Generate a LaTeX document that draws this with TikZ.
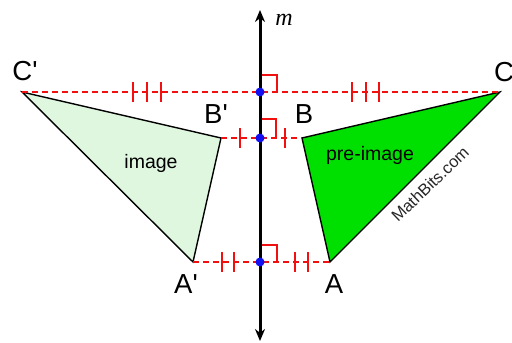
\documentclass[tikz,border=0pt]{standalone}
\usepackage{fontspec}
\setmainfont{Liberation Sans}
\newfontfamily\mserif{Liberation Serif}
\usetikzlibrary{arrows.meta}
\definecolor{lightg}{HTML}{DFF7DF}
\definecolor{brightg}{HTML}{00E000}
\definecolor{mred}{HTML}{F01010}
\definecolor{mblue}{HTML}{1010F0}
\begin{document}
\begin{tikzpicture}[x=1pt,y=-1pt,
  tri/.style={draw=black,line width=1.4pt,line join=miter},
  perp/.style={draw=mred,dashed,dash pattern=on 6pt off 4pt,line width=1.4pt},
  tick/.style={draw=mred,line width=1.6pt},
  rmark/.style={draw=mred,line width=1.4pt},
  dot/.style={circle,fill=mblue,inner sep=0pt,minimum size=9pt},
  lab/.style={font=\fontsize{27.5}{27.5}\selectfont,inner sep=0pt},
  txt/.style={font=\fontsize{19.5}{19.5}\selectfont,inner sep=0pt}]
\useasboundingbox (0,0) rectangle (512,343);
% vertices
\coordinate (Cp) at (22,92);
\coordinate (Bp) at (221,138);
\coordinate (Ap) at (193,262);
\coordinate (C) at (500,92);
\coordinate (B) at (302,138);
\coordinate (A) at (330,262);
\coordinate (Mc) at (260,92);
\coordinate (Mb) at (260,138);
\coordinate (Ma) at (260,262);
\coordinate (top) at (260,10);
\coordinate (bot) at (260,341);
% triangles
\fill[lightg] (Cp) -- (Bp) -- (Ap) -- cycle;
\draw[tri] (Cp) -- (Bp) -- (Ap) -- cycle;
\fill[brightg] (C) -- (B) -- (A) -- cycle;
\draw[tri] (C) -- (B) -- (A) -- cycle;
% dashed perpendiculars
\draw[perp] (Cp) -- (C);
\draw[perp] (Bp) -- (B);
\draw[perp] (Ap) -- (A);
% tick marks
\foreach \x in {133,147,161,352,366,379} \draw[tick] (\x,82) -- (\x,102);
\foreach \x in {240,285} \draw[tick] (\x,128) -- (\x,148);
\foreach \x in {222,234,295,308} \draw[tick] (\x,252) -- (\x,272);
% right-angle marks
\draw[rmark] (260,75) -- (277,75) -- (277,92);
\draw[rmark] (260,119) -- (276,119) -- (276,138);
\draw[rmark] (260,245) -- (277,245) -- (277,262);
% axis
\draw[line width=3pt,{Stealth[length=12pt,width=10pt]}-{Stealth[length=12pt,width=10pt]}] (bot) -- (top);
\node[font=\fontsize{24}{24}\selectfont\mserif\itshape,inner sep=0pt] (m) at (284,20) {m};
% dots
\node[dot] (dc) at (Mc) {};
\node[dot] (db) at (Mb) {};
\node[dot] (da) at (Ma) {};
% labels
\node[lab] (lCp) at (25,71) {C\textquotesingle};
\node[lab] (lC) at (504,72) {C};
\node[lab] (lBp) at (216,114) {B\textquotesingle};
\node[lab] (lB) at (304,114) {B};
\node[lab] (lAp) at (186,284) {A\textquotesingle};
\node[lab] (lA) at (334,284) {A};
\node[txt] (im) at (151,163) {image};
\node[txt] (pim) at (370,155) {pre-image};
\node[font=\fontsize{16.5}{16.5}\selectfont,inner sep=0pt,rotate=44,text=black!85] (mb) at (430,184) {MathBits.com};
\end{tikzpicture}
\end{document}
